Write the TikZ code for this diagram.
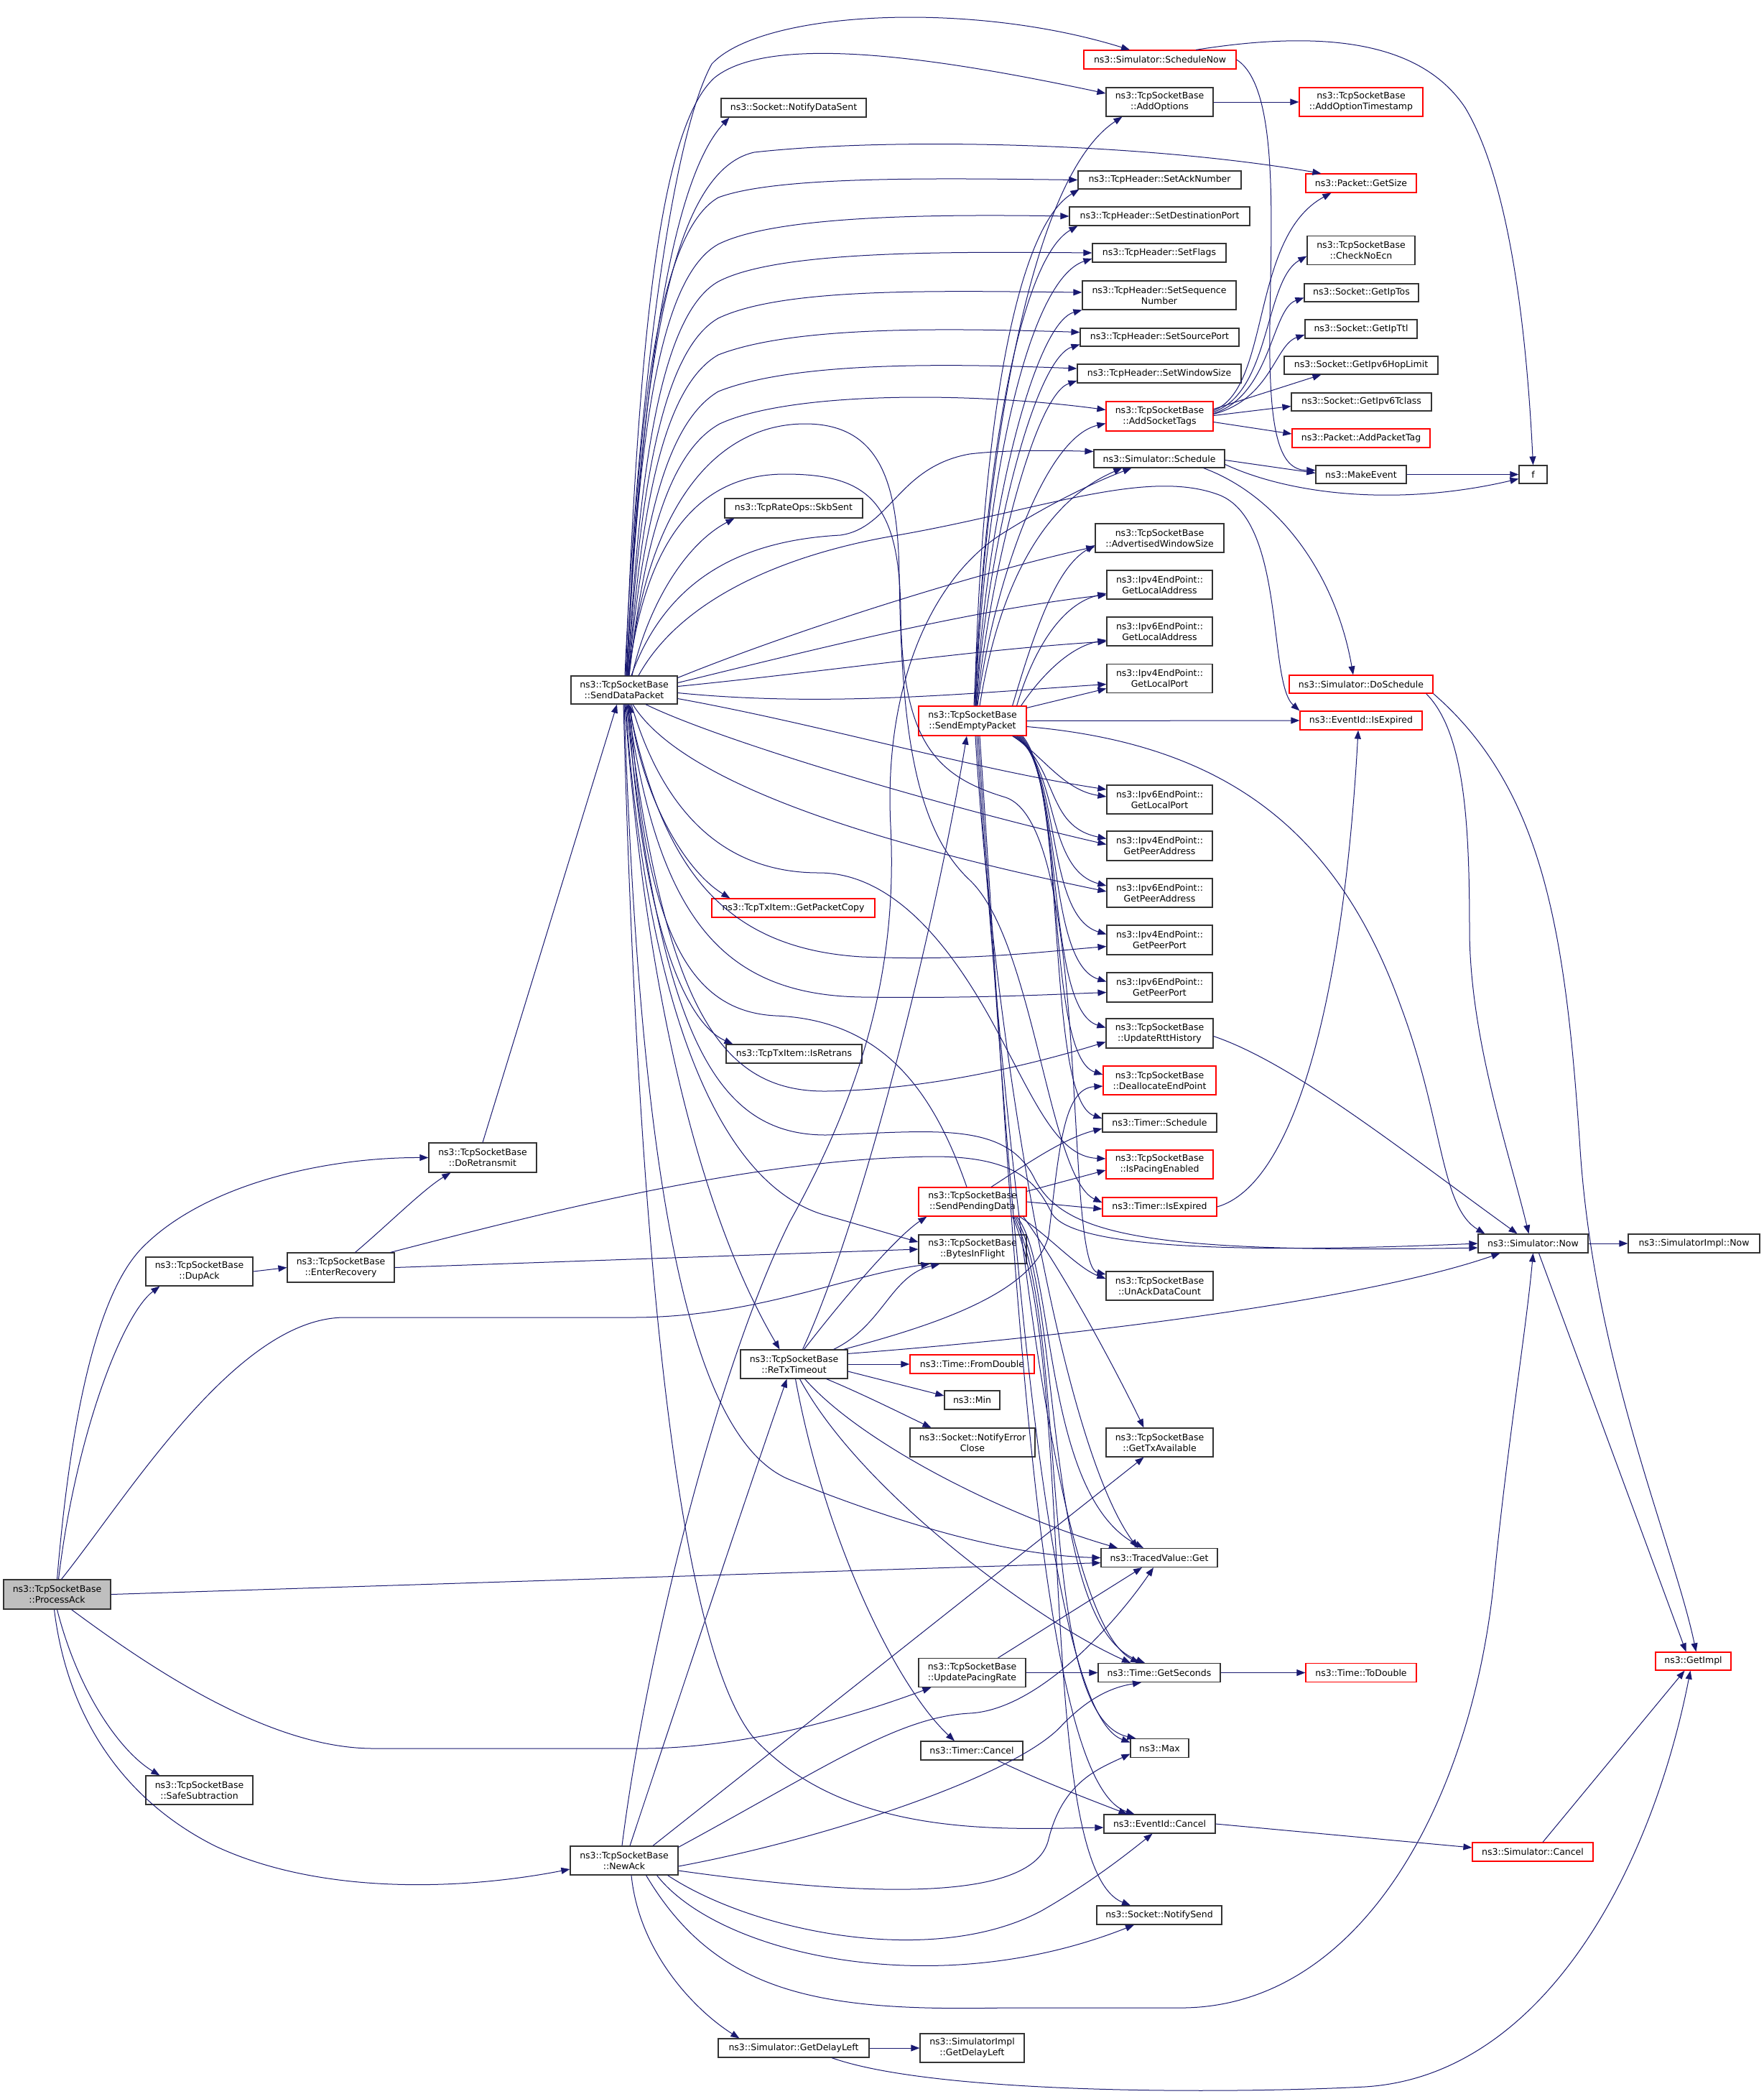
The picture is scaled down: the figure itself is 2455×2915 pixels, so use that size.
\documentclass[tikz,border=0pt]{standalone}
\usepackage{fontspec}
\setmainfont{DejaVu Sans}
\usetikzlibrary{arrows.meta}
\definecolor{edgecol}{HTML}{191970}
\definecolor{bordercol}{HTML}{333333}
\definecolor{redcol}{HTML}{FF0000}
\definecolor{grayfill}{HTML}{BFBFBF}
\tikzset{
  nd/.style={draw=bordercol, line width=1.2pt, fill=white, inner sep=0pt, align=center, font=\fontsize{12.5}{15}\selectfont},
  rd/.style={nd, draw=redcol},
  ed/.style={draw=edgecol, line width=1.0pt, -{Triangle[length=12pt,width=9pt]}},
}
\begin{document}
\begin{tikzpicture}[x=1pt,y=-1pt]
\useasboundingbox (0,0) rectangle (2455,2915);
% ---- nodes ----
\node[nd, fill=grayfill, minimum width=149pt, minimum height=41pt] (PA) at (79.5,2219.5) {ns3::TcpSocketBase\\::ProcessAck};
\node[nd, minimum width=149pt, minimum height=40pt] (DupAck) at (277.5,1770) {ns3::TcpSocketBase\\::DupAck};
\node[nd, minimum width=149pt, minimum height=40pt] (SafeSub) at (277.5,2492) {ns3::TcpSocketBase\\::SafeSubtraction};
\node[nd, minimum width=149pt, minimum height=41pt] (EnterRec) at (474.5,1764.5) {ns3::TcpSocketBase\\::EnterRecovery};
\node[nd, minimum width=150pt, minimum height=41pt] (DoRetr) at (672,1611.5) {ns3::TcpSocketBase\\::DoRetransmit};
\node[nd, minimum width=150pt, minimum height=40pt] (NewAck) at (869,2590) {ns3::TcpSocketBase\\::NewAck};
\node[nd, minimum width=148pt, minimum height=39pt] (SDP) at (869,960.5) {ns3::TcpSocketBase\\::SendDataPacket};
\node[rd, minimum width=212pt, minimum height=26pt] (ScheduleNow) at (1615,83) {ns3::Simulator::ScheduleNow};
\node[nd, minimum width=149pt, minimum height=40pt] (AddOptions) at (1614.5,142) {ns3::TcpSocketBase\\::AddOptions};
\node[nd, minimum width=202pt, minimum height=26pt] (NotifyDataSent) at (1105,150) {ns3::Socket::NotifyDataSent};
\node[nd, minimum width=227pt, minimum height=25pt] (SetAckNumber) at (1614.5,250.5) {ns3::TcpHeader::SetAckNumber};
\node[nd, minimum width=251pt, minimum height=26pt] (SetDestPort) at (1614.5,301) {ns3::TcpHeader::SetDestinationPort};
\node[nd, minimum width=186pt, minimum height=26pt] (SetFlags) at (1614,352) {ns3::TcpHeader::SetFlags};
\node[nd, minimum width=214pt, minimum height=40pt] (SetSeqNum) at (1614,411) {ns3::TcpHeader::SetSequence\\Number};
\node[nd, minimum width=221pt, minimum height=25pt] (SetSrcPort) at (1614.5,469.5) {ns3::TcpHeader::SetSourcePort};
\node[nd, minimum width=228pt, minimum height=26pt] (SetWinSize) at (1614,520) {ns3::TcpHeader::SetWindowSize};
\node[rd, minimum width=149pt, minimum height=41pt] (AddSocketTags) at (1614.5,579.5) {ns3::TcpSocketBase\\::AddSocketTags};
\node[nd, minimum width=182pt, minimum height=25pt] (Schedule) at (1614,638.5) {ns3::Simulator::Schedule};
\node[nd, minimum width=192pt, minimum height=27pt] (SkbSent) at (1105,707.5) {ns3::TcpRateOps::SkbSent};
\node[nd, minimum width=179pt, minimum height=40pt] (AdvWinSize) at (1614.5,749) {ns3::TcpSocketBase\\::AdvertisedWindowSize};
\node[nd, minimum width=147pt, minimum height=40pt] (V4LocAddr) at (1614.5,814) {ns3::Ipv4EndPoint::\\GetLocalAddress};
\node[nd, minimum width=147pt, minimum height=40pt] (V6LocAddr) at (1614.5,879) {ns3::Ipv6EndPoint::\\GetLocalAddress};
\node[nd, minimum width=147pt, minimum height=40pt] (V4LocPort) at (1614.5,944.5) {ns3::Ipv4EndPoint::\\GetLocalPort};
\node[rd, minimum width=150pt, minimum height=41pt] (SEP) at (1354,1003.5) {ns3::TcpSocketBase\\::SendEmptyPacket};
\node[nd, minimum width=147pt, minimum height=40pt] (V6LocPort) at (1614.5,1113) {ns3::Ipv6EndPoint::\\GetLocalPort};
\node[nd, minimum width=147pt, minimum height=41pt] (V4PeerAddr) at (1614.5,1177.5) {ns3::Ipv4EndPoint::\\GetPeerAddress};
\node[nd, minimum width=147pt, minimum height=40pt] (V6PeerAddr) at (1614.5,1243) {ns3::Ipv6EndPoint::\\GetPeerAddress};
\node[nd, minimum width=147pt, minimum height=41pt] (V4PeerPort) at (1614.5,1308.5) {ns3::Ipv4EndPoint::\\GetPeerPort};
\node[nd, minimum width=147pt, minimum height=41pt] (V6PeerPort) at (1614.5,1374.5) {ns3::Ipv6EndPoint::\\GetPeerPort};
\node[nd, minimum width=149pt, minimum height=41pt] (UpdRtt) at (1614.5,1438.5) {ns3::TcpSocketBase\\::UpdateRttHistory};
\node[rd, minimum width=157pt, minimum height=40pt] (Dealloc) at (1614.5,1504) {ns3::TcpSocketBase\\::DeallocateEndPoint};
\node[nd, minimum width=159pt, minimum height=26pt] (TimerSched) at (1614.5,1563) {ns3::Timer::Schedule};
\node[rd, minimum width=149pt, minimum height=40pt] (IsPacing) at (1614.5,1621) {ns3::TcpSocketBase\\::IsPacingEnabled};
\node[rd, minimum width=159pt, minimum height=26pt] (TimerIsExp) at (1614.5,1680) {ns3::Timer::IsExpired};
\node[nd, minimum width=149pt, minimum height=40pt] (UnAck) at (1614.5,1790) {ns3::TcpSocketBase\\::UnAckDataCount};
\node[nd, minimum width=149pt, minimum height=40pt] (GetTxAvail) at (1614.5,2008) {ns3::TcpSocketBase\\::GetTxAvailable};
\node[nd, minimum width=162pt, minimum height=26pt] (TVGet) at (1614,2168.5) {ns3::TracedValue::Get};
\node[nd, minimum width=170pt, minimum height=26pt] (GetSec) at (1614,2328.5) {ns3::Time::GetSeconds};
\node[nd, minimum width=81pt, minimum height=26pt] (Max) at (1614.5,2433.5) {ns3::Max};
\node[nd, minimum width=155pt, minimum height=26pt] (EvCancel) at (1614.5,2539) {ns3::EventId::Cancel};
\node[nd, minimum width=174pt, minimum height=26pt] (NotifySend) at (1614,2666) {ns3::Socket::NotifySend};
\node[rd, minimum width=227pt, minimum height=26pt] (GetPktCopy) at (1104.5,1264) {ns3::TcpTxItem::GetPacketCopy};
\node[nd, minimum width=189pt, minimum height=26pt] (IsRetrans) at (1105.5,1467) {ns3::TcpTxItem::IsRetrans};
\node[rd, minimum width=150pt, minimum height=40pt] (SPD) at (1354,1673) {ns3::TcpSocketBase\\::SendPendingData};
\node[nd, minimum width=150pt, minimum height=40pt] (BIF) at (1354,1739) {ns3::TcpSocketBase\\::BytesInFlight};
\node[nd, minimum width=149pt, minimum height=40pt] (RT) at (1105.5,1899) {ns3::TcpSocketBase\\::ReTxTimeout};
\node[rd, minimum width=173pt, minimum height=26pt] (FromDouble) at (1353.5,1899) {ns3::Time::FromDouble};
\node[nd, minimum width=77pt, minimum height=26pt] (Min) at (1353.5,1949) {ns3::Min};
\node[nd, minimum width=174pt, minimum height=40pt] (NotifyErrClose) at (1354,2008) {ns3::Socket::NotifyError\\Close};
\node[nd, minimum width=149pt, minimum height=40pt] (UPR) at (1353.5,2328.5) {ns3::TcpSocketBase\\::UpdatePacingRate};
\node[nd, minimum width=142pt, minimum height=26pt] (TimerCancel) at (1353,2437) {ns3::Timer::Cancel};
\node[nd, minimum width=210pt, minimum height=26pt] (GetDelayLeft) at (1105,2851) {ns3::Simulator::GetDelayLeft};
\node[nd, minimum width=145pt, minimum height=40pt] (SimImplGDL) at (1353.5,2851) {ns3::SimulatorImpl\\::GetDelayLeft};
\node[rd, minimum width=172pt, minimum height=40pt] (AddOptTS) at (1895,142) {ns3::TcpSocketBase\\::AddOptionTimestamp};
\node[rd, minimum width=154pt, minimum height=26pt] (PktGetSize) at (1895,255) {ns3::Packet::GetSize};
\node[nd, minimum width=150pt, minimum height=40pt] (CheckNoEcn) at (1895,348.5) {ns3::TcpSocketBase\\::CheckNoEcn};
\node[nd, minimum width=159pt, minimum height=25pt] (GetIpTos) at (1895.5,407.5) {ns3::Socket::GetIpTos};
\node[nd, minimum width=156pt, minimum height=26pt] (GetIpTtl) at (1895,458) {ns3::Socket::GetIpTtl};
\node[nd, minimum width=214pt, minimum height=25pt] (GetIpvHop) at (1895,508.5) {ns3::Socket::GetIpv6HopLimit};
\node[nd, minimum width=195pt, minimum height=25pt] (GetIpvTc) at (1895.5,559.5) {ns3::Socket::GetIpv6Tclass};
\node[rd, minimum width=192pt, minimum height=26pt] (AddPktTag) at (1895,610) {ns3::Packet::AddPacketTag};
\node[nd, minimum width=126pt, minimum height=25pt] (MakeEvent) at (1895,660.5) {ns3::MakeEvent};
\node[nd, minimum width=39pt, minimum height=25pt] (f) at (2134.5,660.5) {f};
\node[rd, minimum width=200pt, minimum height=25pt] (DoSched) at (1895,952.5) {ns3::Simulator::DoSchedule};
\node[rd, minimum width=170pt, minimum height=26pt] (EvIsExp) at (1895,1003) {ns3::EventId::IsExpired};
\node[nd, minimum width=153pt, minimum height=26pt] (SimNow) at (2134.5,1731) {ns3::Simulator::Now};
\node[nd, minimum width=183pt, minimum height=26pt] (SimImplNow) at (2358.5,1731) {ns3::SimulatorImpl::Now};
\node[rd, minimum width=154pt, minimum height=26pt] (ToDouble) at (1895,2328.5) {ns3::Time::ToDouble};
\node[rd, minimum width=105pt, minimum height=25pt] (GetImpl) at (2357.5,2312.5) {ns3::GetImpl};
\node[rd, minimum width=168pt, minimum height=26pt] (SimCancel) at (2134,2578) {ns3::Simulator::Cancel};
% ---- edges from ProcessAck ----
\draw[ed] (PA.north) .. controls (100,1950) and (140,1800) .. (195,1740) .. controls (280,1650) and (450,1611) .. (DoRetr.west);
\draw[ed] ([xshift=2pt]PA.north) .. controls (105,2000) and (170,1830) .. ([xshift=20pt]DupAck.south west);
\draw[ed] ([xshift=6pt]PA.north) .. controls (180,2080) and (330,1834) .. (480,1834) -- (880,1834) .. controls (1050,1834) and (1180,1775) .. ([xshift=16pt]BIF.south west);
\draw[ed] (PA.east) -- ([yshift=-7pt]TVGet.west);
\draw[ed] ([xshift=20pt]PA.south) .. controls (220,2330) and (380,2434) .. (520,2434) -- (900,2434) .. controls (1050,2432) and (1200,2385) .. ([xshift=18pt]UPR.south west);
\draw[ed] (PA.south) .. controls (110,2360) and (170,2440) .. ([xshift=20pt]SafeSub.north west);
\draw[ed] ([xshift=-4pt]PA.south) .. controls (95,2400) and (180,2510) .. (300,2570) .. controls (450,2640) and (650,2630) .. ([yshift=-12pt]NewAck.west);
% ---- DupAck, EnterRecovery, DoRetransmit ----
\draw[ed] (DupAck.east) -- (EnterRec.west);
\draw[ed] ([xshift=20pt]EnterRec.north) .. controls (540,1705) and (590,1655) .. ([xshift=31pt]DoRetr.south west);
\draw[ed] (EnterRec.east) -- (BIF.west);
\draw[ed] ([xshift=-6pt]EnterRec.north east) .. controls (750,1690) and (1050,1612) .. (1300,1610) .. controls (1420,1610) and (1445,1650) .. (1465,1690) .. controls (1500,1745) and (1800,1742) .. (SimNow.west);
\draw[ed] (DoRetr.north) -- ([xshift=-10pt]SDP.south);
% ---- edges from SendDataPacket ----
\draw[ed] ([xshift=1pt]SDP.north) .. controls (885,600) and (930,200) .. (991,89) .. controls (1060,15) and (1350,0) .. ([xshift=-42pt]ScheduleNow.north);
\draw[ed] ([xshift=2pt]SDP.north) .. controls (888,500) and (915,180) .. (995,108) .. controls (1080,40) and (1350,90) .. ([yshift=12pt]AddOptions.west);
\draw[ed] ([xshift=3pt]SDP.north) .. controls (890,600) and (925,260) .. ([xshift=12pt]NotifyDataSent.south west);
\draw[ed] ([xshift=3pt]SDP.north) .. controls (892,550) and (925,240) .. (1050,212) .. controls (1250,190) and (1600,200) .. ([xshift=22pt]PktGetSize.north west);
\draw[ed] ([xshift=4pt]SDP.north) .. controls (885,650) and (905,330) .. (1000,275) .. controls (1080,245) and (1300,248) .. (SetAckNumber.west);
\draw[ed] ([xshift=4pt]SDP.north) .. controls (887,650) and (910,390) .. (1000,340) .. controls (1080,300) and (1300,298) .. (SetDestPort.west);
\draw[ed] ([xshift=5pt]SDP.north) .. controls (889,680) and (915,440) .. (1000,392) .. controls (1080,350) and (1300,350) .. (SetFlags.west);
\draw[ed] ([xshift=5pt]SDP.north) .. controls (890,700) and (918,490) .. (1000,443) .. controls (1090,400) and (1300,405) .. ([yshift=4pt]SetSeqNum.west);
\draw[ed] ([xshift=6pt]SDP.north) .. controls (892,720) and (920,540) .. (1000,494) .. controls (1100,455) and (1300,456) .. ([yshift=7pt]SetSrcPort.west);
\draw[ed] ([xshift=6pt]SDP.north) .. controls (894,740) and (925,590) .. (1000,545) .. controls (1100,505) and (1300,505) .. ([yshift=7pt]SetWinSize.west);
\draw[ed] ([xshift=7pt]SDP.north) .. controls (896,760) and (930,630) .. (1002,590) .. controls (1100,545) and (1350,545) .. ([yshift=9pt]AddSocketTags.west);
\draw[ed] ([xshift=10pt]SDP.north) .. controls (930,800) and (1040,752) .. (1170,745) .. controls (1240,735) and (1250,650) .. (1350,632) .. controls (1400,626) and (1470,627) .. ([yshift=10pt]Schedule.west);
\draw[ed] ([xshift=11pt]SDP.north) .. controls (900,850) and (950,760) .. ([xshift=14pt]SkbSent.south west);
\draw[ed] ([xshift=20pt]SDP.north) .. controls (950,830) and (1100,770) .. (1250,745) .. controls (1450,710) and (1600,650) .. (1700,690) .. controls (1790,730) and (1765,950) .. (EvIsExp.north west);
\draw[ed] ([yshift=17pt]SDP.east) .. controls (1100,880) and (1350,800) .. ([yshift=-12pt]AdvWinSize.west);
\draw[ed] ([yshift=10pt]SDP.east) .. controls (1150,900) and (1350,850) .. ([yshift=-14pt]V4LocAddr.west);
\draw[ed] ([yshift=5pt]SDP.east) .. controls (1150,935) and (1350,905) .. ([yshift=-14pt]V6LocAddr.west);
\draw[ed] ([yshift=-4pt]SDP.east) .. controls (1150,985) and (1350,965) .. ([yshift=-8pt]V4LocPort.west);
\draw[ed] ([yshift=-12pt]SDP.east) .. controls (1150,1010) and (1350,1070) .. ([yshift=14pt]V6LocPort.west);
\draw[ed] ([xshift=30pt]SDP.south) .. controls (1000,1030) and (1300,1120) .. ([yshift=2pt]V4PeerAddr.west);
\draw[ed] ([xshift=12pt]SDP.south) .. controls (930,1060) and (1100,1150) .. ([yshift=2pt]V6PeerAddr.west);
\draw[ed] ([xshift=6pt]SDP.south) .. controls (920,1200) and (1000,1320) .. (1200,1332) .. controls (1350,1338) and (1450,1325) .. ([yshift=-9pt]V4PeerPort.west);
\draw[ed] ([xshift=5pt]SDP.south) .. controls (915,1270) and (1000,1385) .. (1200,1388) .. controls (1350,1390) and (1450,1385) .. ([yshift=-7pt]V6PeerPort.west);
\draw[ed] ([xshift=4pt]SDP.south) .. controls (925,1400) and (1000,1520) .. (1150,1519) .. controls (1300,1517) and (1450,1478) .. ([yshift=-12pt]UpdRtt.west);
\draw[ed] ([xshift=8pt]SDP.south) .. controls (890,1100) and (950,1210) .. ([xshift=26pt]GetPktCopy.north west);
\draw[ed] ([xshift=6pt]SDP.south) .. controls (890,1250) and (945,1420) .. ([xshift=10pt]IsRetrans.north west);
\draw[ed] ([xshift=10pt]SDP.south) .. controls (920,1120) and (1000,1215) .. (1140,1215) .. controls (1250,1215) and (1330,1330) .. (1380,1420) .. controls (1440,1530) and (1470,1610) .. ([yshift=8pt]IsPacing.west);
\draw[ed] ([xshift=7pt]SDP.north) .. controls (900,700) and (1000,590) .. (1121,590) .. controls (1230,590) and (1250,680) .. (1252,800) .. controls (1255,1000) and (1270,1150) .. (1350,1225) .. controls (1440,1310) and (1460,1640) .. ([yshift=6pt]TimerIsExp.west);
\draw[ed] ([xshift=6pt]SDP.north) .. controls (900,740) and (980,660) .. (1093,660) .. controls (1210,660) and (1252,700) .. (1254,850) .. controls (1256,1030) and (1300,1080) .. (1400,1110) .. controls (1520,1150) and (1480,1760) .. ([yshift=16pt]UnAck.west);
\draw[ed] ([xshift=3pt]SDP.south) .. controls (920,1450) and (1000,1580) .. (1150,1580) .. controls (1300,1575) and (1400,1560) .. (1440,1640) .. controls (1480,1720) and (1600,1745) .. ([yshift=-6pt]SimNow.west);
\draw[ed] ([xshift=2pt]SDP.south) .. controls (900,1400) and (1000,1650) .. (1150,1692) .. controls (1200,1706) and (1240,1718) .. ([yshift=10pt]BIF.west);
\draw[ed] ([xshift=1pt]SDP.south) .. controls (900,1400) and (980,1700) .. ([xshift=-20pt]RT.north);
\draw[ed] (SDP.south) .. controls (890,1600) and (950,2000) .. (1100,2060) .. controls (1250,2120) and (1400,2165) .. (TVGet.west);
\draw[ed] ([xshift=-1pt]SDP.south) .. controls (890,1800) and (950,2300) .. (1050,2420) .. controls (1180,2560) and (1400,2546) .. ([yshift=-5pt]EvCancel.west);
% ---- edges from SendEmptyPacket ----
\draw[ed] ([xshift=2pt]SEP.north) .. controls (1372,650) and (1430,250) .. ([xshift=23pt]AddOptions.south west);
\draw[ed] ([xshift=3pt]SEP.north) .. controls (1365,620) and (1410,320) .. ([xshift=2pt]SetAckNumber.south west);
\draw[ed] ([xshift=4pt]SEP.north) .. controls (1368,650) and (1420,360) .. ([xshift=12pt]SetDestPort.south west);
\draw[ed] ([xshift=4pt]SEP.north) .. controls (1370,680) and (1430,390) .. ([yshift=-8pt]SetFlags.west);
\draw[ed] ([xshift=5pt]SEP.north) .. controls (1372,720) and (1440,450) .. (SetSeqNum.south west);
\draw[ed] ([xshift=5pt]SEP.north) .. controls (1375,760) and (1440,500) .. ([yshift=-10pt]SetSrcPort.west);
\draw[ed] ([xshift=6pt]SEP.north) .. controls (1378,800) and (1440,550) .. ([yshift=-10pt]SetWinSize.west);
\draw[ed] ([xshift=7pt]SEP.north) .. controls (1380,830) and (1450,610) .. ([yshift=-10pt]AddSocketTags.west);
\draw[ed] ([xshift=10pt]SEP.north) .. controls (1390,820) and (1450,700) .. ([xshift=40pt]Schedule.south west);
\draw[ed] ([xshift=-20pt]SEP.north east) .. controls (1440,880) and (1470,790) .. ([yshift=-10pt]AdvWinSize.west);
\draw[ed] ([xshift=-14pt]SEP.north east) .. controls (1440,900) and (1480,840) .. ([yshift=-12pt]V4LocAddr.west);
\draw[ed] ([xshift=-8pt]SEP.north east) .. controls (1450,940) and (1490,900) .. ([yshift=-12pt]V6LocAddr.west);
\draw[ed] ([yshift=-3pt]SEP.north east) -- ([yshift=-14pt]V4LocPort.west);
\draw[ed] (SEP.east) -- (EvIsExp.west);
\draw[ed] ([yshift=-8pt]SEP.east) .. controls (1700,1035) and (1860,1150) .. (1950,1400) .. controls (2010,1560) and (2005,1680) .. ([xshift=10pt]SimNow.north west);
\draw[ed] ([xshift=-20pt]SEP.south east) .. controls (1450,1050) and (1480,1100) .. ([yshift=4pt]V6LocPort.west);
\draw[ed] ([xshift=-18pt]SEP.south east) .. controls (1475,1070) and (1455,1150) .. ([yshift=10pt]V4PeerAddr.west);
\draw[ed] ([xshift=-16pt]SEP.south east) .. controls (1475,1070) and (1455,1210) .. ([yshift=10pt]V6PeerAddr.west);
\draw[ed] ([xshift=-14pt]SEP.south east) .. controls (1478,1075) and (1455,1275) .. ([yshift=8pt]V4PeerPort.west);
\draw[ed] ([xshift=-12pt]SEP.south east) .. controls (1480,1080) and (1455,1340) .. ([yshift=8pt]V6PeerPort.west);
\draw[ed] ([xshift=-10pt]SEP.south east) .. controls (1482,1085) and (1455,1405) .. ([yshift=8pt]UpdRtt.west);
\draw[ed] ([xshift=-8pt]SEP.south east) .. controls (1484,1090) and (1455,1470) .. ([yshift=8pt]Dealloc.west);
\draw[ed] ([xshift=-6pt]SEP.south east) .. controls (1486,1095) and (1455,1530) .. ([yshift=6pt]TimerSched.west);
\draw[ed] ([xshift=4pt]SEP.south) .. controls (1380,1400) and (1470,2000) .. ([xshift=-30pt]TVGet.north);
\draw[ed] ([xshift=6pt]SEP.south) .. controls (1390,1500) and (1460,2250) .. ([xshift=-28pt]GetSec.north);
\draw[ed] ([xshift=8pt]SEP.south) .. controls (1400,1600) and (1450,2380) .. ([yshift=8pt]Max.west);
\draw[ed] ([xshift=10pt]SEP.south) .. controls (1410,1700) and (1440,2480) .. ([xshift=-35pt]EvCancel.north);
% ---- edges from SendPendingData ----
\draw[ed] ([xshift=-8pt]SPD.north) .. controls (1300,1520) and (1230,1420) .. (1080,1414) .. controls (960,1408) and (900,1300) .. ([xshift=8pt]SDP.south);
\draw[ed] ([xshift=26pt]SPD.north) .. controls (1430,1620) and (1480,1585) .. ([yshift=-8pt]TimerSched.west);
\draw[ed] ([yshift=-6pt]SPD.north east) -- ([yshift=-8pt]IsPacing.west);
\draw[ed] (SPD.east) -- ([yshift=-3pt]TimerIsExp.west);
\draw[ed] ([xshift=-10pt]SPD.south east) .. controls (1460,1720) and (1500,1765) .. ([yshift=10pt]UnAck.west);
\draw[ed] ([xshift=-5pt]SPD.south east) .. controls (1480,1770) and (1550,1900) .. ([xshift=-22pt]GetTxAvail.north);
\draw[ed] ([xshift=-14pt]SPD.south east) .. controls (1470,1760) and (1450,2080) .. ([xshift=-22pt]TVGet.north);
\draw[ed] ([xshift=-16pt]SPD.south east) .. controls (1480,1800) and (1450,2260) .. ([xshift=-20pt]GetSec.north);
\draw[ed] ([xshift=-18pt]SPD.south east) .. controls (1490,1850) and (1440,2390) .. ([xshift=8pt]Max.north west);
\draw[ed] ([xshift=-20pt]SPD.south east) .. controls (1500,1900) and (1440,2600) .. ([xshift=-40pt]NotifySend.north);
% ---- edges from ReTxTimeout ----
\draw[ed] ([xshift=12pt]RT.north) .. controls (1200,1700) and (1300,1300) .. ([xshift=-8pt]SEP.south);
\draw[ed] ([xshift=14pt]RT.north) .. controls (1180,1800) and (1250,1720) .. ([xshift=12pt]SPD.south west);
\draw[ed] ([xshift=-20pt]RT.north east) .. controls (1230,1845) and (1240,1775) .. ([xshift=30pt]BIF.south west);
\draw[ed] ([xshift=-6pt]RT.north east) .. controls (1300,1845) and (1440,1800) .. (1460,1720) .. controls (1475,1600) and (1480,1515) .. ([yshift=-8pt]Dealloc.west);
\draw[ed] ([yshift=-6pt]RT.north east) .. controls (1500,1860) and (1900,1810) .. ([xshift=-46pt]SimNow.south);
\draw[ed] (RT.east) -- (FromDouble.west);
\draw[ed] ([yshift=-10pt]RT.east) -- ([yshift=6pt]Min.west);
\draw[ed] ([xshift=-30pt]RT.south east) .. controls (1200,1940) and (1260,1970) .. ([xshift=30pt]NotifyErrClose.north west);
\draw[ed] ([xshift=15pt]RT.south) .. controls (1200,2010) and (1400,2110) .. ([xshift=-58pt]TVGet.north);
\draw[ed] ([xshift=8pt]RT.south) .. controls (1200,2080) and (1450,2260) .. ([xshift=-40pt]GetSec.north);
\draw[ed] ([xshift=2pt]RT.south) .. controls (1150,2150) and (1250,2350) .. ([xshift=-24pt]TimerCancel.north);
% ---- edges from NewAck ----
\draw[ed] ([xshift=-3pt]NewAck.north) .. controls (900,2300) and (1000,1900) .. (1100,1700) .. controls (1200,1520) and (1250,1350) .. (1240,1150) .. controls (1230,950) and (1300,800) .. (1400,740) .. controls (1480,690) and (1540,665) .. ([xshift=53pt]Schedule.south west);
\draw[ed] ([xshift=8pt]NewAck.north) .. controls (950,2350) and (1050,2050) .. ([xshift=-10pt]RT.south);
\draw[ed] ([xshift=40pt]NewAck.north) -- ([xshift=-22pt]GetTxAvail.south);
\draw[ed] ([yshift=-2pt]NewAck.north east) .. controls (1150,2460) and (1250,2390) .. (1350,2385) .. controls (1450,2380) and (1560,2250) .. ([xshift=-8pt]TVGet.south);
\draw[ed] ([yshift=-8pt]NewAck.east) .. controls (1150,2560) and (1420,2470) .. (1480,2400) .. controls (1510,2370) and (1540,2350) .. ([xshift=-25pt]GetSec.south);
\draw[ed] ([yshift=-14pt]NewAck.east) .. controls (1200,2640) and (1440,2650) .. (1460,2560) .. controls (1480,2480) and (1530,2462) .. ([yshift=-8pt]Max.west);
\draw[ed] ([xshift=-15pt]NewAck.south east) .. controls (1050,2690) and (1300,2740) .. (1450,2660) .. controls (1520,2620) and (1570,2580) .. ([xshift=-10pt]EvCancel.south);
\draw[ed] ([xshift=-30pt]NewAck.south east) .. controls (1000,2720) and (1300,2790) .. ([xshift=-35pt]NotifySend.south);
\draw[ed] ([xshift=-45pt]NewAck.south east) .. controls (1000,2780) and (1150,2800) .. (1400,2795) -- (1650,2795) .. controls (1900,2790) and (2050,2500) .. (2080,2200) .. controls (2100,2000) and (2125,1850) .. (SimNow.south);
\draw[ed] ([xshift=10pt]NewAck.south) .. controls (890,2720) and (970,2800) .. ([xshift=30pt]GetDelayLeft.north west);
% ---- other edges ----
\draw[ed] ([xshift=36pt]UPR.north) -- ([xshift=-24pt]TVGet.south);
\draw[ed] (UPR.east) -- (GetSec.west);
\draw[ed] (GetSec.east) -- (ToDouble.west);
\draw[ed] ([xshift=36pt]TimerCancel.south) .. controls (1450,2480) and (1530,2510) .. ([xshift=-45pt]EvCancel.north);
\draw[ed] (EvCancel.east) -- ([yshift=6pt]SimCancel.west);
\draw[ed] ([xshift=14pt]SimCancel.north) -- ([xshift=-12pt]GetImpl.south);
\draw[ed] (GetDelayLeft.east) -- (SimImplGDL.west);
\draw[ed] ([xshift=53pt]GetDelayLeft.south) .. controls (1300,2915) and (1700,2915) .. (1900,2905) .. controls (2150,2890) and (2300,2600) .. ([xshift=-4pt]GetImpl.south);
\draw[ed] (SimNow.east) -- (SimImplNow.west);
\draw[ed] ([xshift=8pt]SimNow.south) -- ([xshift=-10pt]GetImpl.north);
\draw[ed] ([xshift=-10pt]DoSched.south east) .. controls (2040,1020) and (2046,1150) .. (2046,1300) .. controls (2048,1450) and (2100,1600) .. ([xshift=-6pt]SimNow.north);
\draw[ed] (DoSched.south east) .. controls (2150,1100) and (2180,1300) .. (2200,1600) .. controls (2220,1900) and (2330,2150) .. ([xshift=4pt]GetImpl.north);
\draw[ed] ([yshift=-4pt]UpdRtt.east) .. controls (1800,1480) and (1950,1600) .. ([xshift=-22pt]SimNow.north);
\draw[ed] (TimerIsExp.east) .. controls (1800,1650) and (1870,1400) .. ([xshift=-4pt]EvIsExp.south);
\draw[ed] ([xshift=-30pt]Schedule.south east) .. controls (1780,690) and (1860,800) .. ([xshift=-11pt]DoSched.north);
\draw[ed] ([yshift=-2pt]Schedule.east) -- ([yshift=2pt]MakeEvent.west);
\draw[ed] ([yshift=-8pt]Schedule.east) .. controls (1800,690) and (1950,705) .. ([yshift=-6pt]f.west);
\draw[ed] ([xshift=50pt]ScheduleNow.north) .. controls (1850,40) and (1980,60) .. (2040,150) .. controls (2100,250) and (2125,450) .. (f.north);
\draw[ed] (ScheduleNow.east) .. controls (1780,120) and (1770,300) .. (1768,450) .. controls (1766,600) and (1780,655) .. ([yshift=6pt]MakeEvent.west);
\draw[ed] (MakeEvent.east) -- (f.west);
\draw[ed] (AddOptions.east) -- (AddOptTS.west);
\draw[ed] ([yshift=8pt]AddSocketTags.east) .. controls (1770,540) and (1740,330) .. ([xshift=36pt]PktGetSize.south west);
\draw[ed] ([yshift=6pt]AddSocketTags.east) .. controls (1770,545) and (1760,390) .. ([yshift=-8pt]CheckNoEcn.west);
\draw[ed] ([yshift=4pt]AddSocketTags.east) .. controls (1770,550) and (1770,430) .. ([yshift=-7pt]GetIpTos.west);
\draw[ed] ([yshift=3pt]AddSocketTags.east) .. controls (1770,555) and (1775,480) .. ([yshift=-8pt]GetIpTtl.west);
\draw[ed] ([yshift=10pt]AddSocketTags.east) -- ([xshift=52pt]GetIpvHop.south west);
\draw[ed] ([yshift=1pt]AddSocketTags.east) -- ([yshift=-6pt]GetIpvTc.west);
\draw[ed] ([yshift=-8pt]AddSocketTags.east) -- ([yshift=6pt]AddPktTag.west);
\end{tikzpicture}
\end{document}
